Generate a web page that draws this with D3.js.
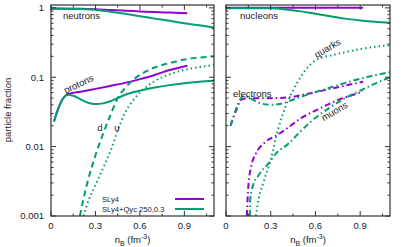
<!DOCTYPE html>
<meta charset="utf-8">
<style>
  body { margin: 0; background: #fff; }
  svg { font-family: "Liberation Sans", Arial, sans-serif; fill: #222; }
  .frame { fill: none; stroke: #333; stroke-width: 1.2px; }
  .tick { stroke: #333; stroke-width: 1px; }
  .curve { fill: none; stroke-width: 2px; }
  .lbl { font-size: 9.5px; }
  .key { font-size: 7.6px; }
</style>
<body>
<svg width="411" height="247"></svg>
<script src="https://cdn.jsdelivr.net/npm/d3@7/dist/d3.min.js"></script>
<script>
// axis ticks
const xTicks = [0, 0.3, 0.6, 0.9];
const xMinor = [0.15, 0.45, 0.75, 1.05];
const yTicks = [0.001, 0.01, 0.1, 1];
const yTickLabels = ["0.001", "0.01", "0.1", "1"];

// left panel: SLy4 (purple) vs SLy4+Qyc 250,0.3 (green)
const neutronsSLy4 = [[0,0.98],[0.2,0.97],[0.3,0.955],[0.4,0.93],[0.5,0.91],[0.6,0.89],[0.7,0.87],[0.8,0.855],[0.92,0.835]];
const neutronsQyc = [[0,0.98],[0.2,0.965],[0.3,0.94],[0.4,0.88],[0.5,0.82],[0.6,0.76],[0.7,0.7],[0.8,0.65],[0.9,0.6],[1.0,0.56],[1.1,0.52]];
const protonsSLy4 = [[0.02,0.023],[0.05,0.036],[0.08,0.049],[0.115,0.057],[0.2,0.062],[0.3,0.068],[0.4,0.075],[0.5,0.083],[0.6,0.094],[0.7,0.108],[0.8,0.127],[0.92,0.147]];
const protonsQyc = [[0.02,0.023],[0.05,0.036],[0.08,0.049],[0.115,0.056],[0.15,0.054],[0.2,0.048],[0.25,0.043],[0.3,0.041],[0.35,0.042],[0.4,0.045],[0.45,0.05],[0.5,0.056],[0.6,0.064],[0.7,0.071],[0.8,0.077],[0.9,0.082],[1.0,0.086],[1.1,0.089]];
const dQuarks = [[0.195,0.001],[0.22,0.0018],[0.25,0.0033],[0.3,0.0075],[0.35,0.015],[0.4,0.028],[0.45,0.05],[0.5,0.07],[0.55,0.09],[0.6,0.108],[0.7,0.138],[0.8,0.16],[0.9,0.18],[1.0,0.192],[1.1,0.2]];
const uQuarks = [[0.22,0.001],[0.25,0.0016],[0.3,0.0028],[0.35,0.0048],[0.4,0.0085],[0.45,0.017],[0.5,0.031],[0.55,0.045],[0.6,0.06],[0.7,0.088],[0.8,0.11],[0.9,0.128],[1.0,0.14],[1.1,0.15]];

// right panel
const nucleonsSLy4 = [[0,1],[0.3,1],[0.6,1],[0.92,1]];
const nucleonsQyc = [[0,0.99],[0.2,0.99],[0.3,0.985],[0.4,0.95],[0.5,0.89],[0.6,0.82],[0.7,0.76],[0.8,0.7],[0.9,0.66],[1.0,0.63],[1.1,0.61]];
const quarks = [[0.2,0.001],[0.22,0.0018],[0.25,0.003],[0.3,0.0065],[0.35,0.018],[0.4,0.038],[0.45,0.065],[0.5,0.1],[0.55,0.14],[0.6,0.175],[0.65,0.195],[0.7,0.205],[0.8,0.23],[0.9,0.255],[1.0,0.275],[1.1,0.29]];
const electronsSLy4 = [[0.03,0.02],[0.07,0.034],[0.1,0.047],[0.14,0.05],[0.2,0.05],[0.3,0.05],[0.41,0.051],[0.5,0.055],[0.6,0.061],[0.7,0.068],[0.8,0.076],[0.92,0.086]];
const electronsQyc = [[0.03,0.02],[0.07,0.036],[0.1,0.05],[0.12,0.054],[0.16,0.05],[0.22,0.043],[0.3,0.04],[0.36,0.041],[0.42,0.045],[0.5,0.052],[0.6,0.061],[0.68,0.069],[0.8,0.083],[0.9,0.095],[1.0,0.107],[1.1,0.118]];
const muonsSLy4 = [[0.14,0.001],[0.145,0.0018],[0.15,0.0027],[0.17,0.0053],[0.2,0.0079],[0.26,0.0115],[0.34,0.0145],[0.42,0.019],[0.5,0.0255],[0.6,0.033],[0.73,0.045],[0.92,0.062]];
const muonsQyc = [[0.16,0.001],[0.162,0.0017],[0.18,0.0027],[0.22,0.0039],[0.29,0.0059],[0.34,0.0082],[0.41,0.0106],[0.48,0.015],[0.55,0.021],[0.6,0.026],[0.7,0.037],[0.8,0.05],[0.9,0.064],[1.0,0.081],[1.1,0.1]];

const purple = "#9400d3", green = "#009e73";
const dashes = { solid: null, dash: "6,4", dot: "1.5,3", dashdot: "6,3,1.5,3" };

const svg = d3.select("svg");
const plotTop = 5, plotBottom = 216;
const y = d3.scaleLog().domain([0.001, 1.1]).range([plotBottom, plotTop]);

const panels = [
  { id: 0, x0: 51, x1: 214, series: [
      [neutronsSLy4, purple, "solid"], [protonsSLy4, purple, "solid"],
      [neutronsQyc, green, "solid"], [protonsQyc, green, "solid"],
      [dQuarks, green, "dash"], [uQuarks, green, "dot"]] },
  { id: 1, x0: 226, x1: 390, series: [
      [nucleonsSLy4, purple, "solid"], [electronsSLy4, purple, "dashdot"], [muonsSLy4, purple, "dashdot"],
      [nucleonsQyc, green, "solid"], [quarks, green, "dot"],
      [electronsQyc, green, "dashdot"], [muonsQyc, green, "dashdot"]] }
];

panels.forEach(p => {
  const x = d3.scaleLinear().domain([0, 1.1]).range([p.x0, p.x1]);
  const g = svg.append("g");

  g.append("clipPath").attr("id", "clip" + p.id)
    .append("rect").attr("x", p.x0).attr("y", plotTop).attr("width", p.x1 - p.x0).attr("height", plotBottom - plotTop);

  const line = d3.line().x(d => x(d[0])).y(d => y(d[1])).curve(d3.curveMonotoneX);
  g.append("g").attr("clip-path", "url(#clip" + p.id + ")")
    .selectAll("path").data(p.series).join("path")
      .attr("class", "curve")
      .attr("d", d => line(d[0]))
      .attr("stroke", d => d[1])
      .attr("stroke-dasharray", d => dashes[d[2]]);

  // x ticks, bottom and top
  const xt = xTicks.map(v => [v, 5]).concat(xMinor.map(v => [v, 2.5]));
  xt.forEach(([v, len]) => {
    g.append("line").attr("class", "tick").attr("x1", x(v)).attr("x2", x(v)).attr("y1", plotBottom).attr("y2", plotBottom - len);
    g.append("line").attr("class", "tick").attr("x1", x(v)).attr("x2", x(v)).attr("y1", plotTop).attr("y2", plotTop + len);
  });
  g.selectAll(".xl").data(xTicks).join("text")
    .attr("class", "lbl").attr("x", d => x(d)).attr("y", 229).attr("text-anchor", "middle")
    .text(d => d3.format("")(d));

  // y ticks, left and right
  const yt = [];
  yTicks.forEach(v => {
    yt.push([v, 5]);
    if (v < 1) for (let k = 2; k <= 9; k++) yt.push([v * k, 2.5]);
  });
  yt.forEach(([v, len]) => {
    g.append("line").attr("class", "tick").attr("x1", p.x0).attr("x2", p.x0 + len).attr("y1", y(v)).attr("y2", y(v));
    g.append("line").attr("class", "tick").attr("x1", p.x1).attr("x2", p.x1 - len).attr("y1", y(v)).attr("y2", y(v));
  });

  g.append("rect").attr("class", "frame")
    .attr("x", p.x0).attr("y", plotTop).attr("width", p.x1 - p.x0).attr("height", plotBottom - plotTop);

  const xl = g.append("text").attr("class", "lbl").attr("x", (p.x0 + p.x1) / 2).attr("y", 243).attr("text-anchor", "middle");
  xl.append("tspan").text("n");
  xl.append("tspan").attr("dy", 2.5).attr("font-size", "7px").text("B");
  xl.append("tspan").attr("dy", -2.5).text(" (fm");
  xl.append("tspan").attr("dy", -4).attr("font-size", "7px").text("-3");
  xl.append("tspan").attr("dy", 4).text(")");
});

// y tick labels on the left panel only
svg.selectAll(".yl").data(yTicks).join("text")
  .attr("class", "lbl").attr("x", 44).attr("y", d => y(d)).attr("dy", "0.35em")
  .attr("text-anchor", "end").text((d, i) => yTickLabels[i]);

svg.append("text").attr("class", "lbl")
  .attr("transform", "translate(11,110) rotate(-90)").attr("text-anchor", "middle")
  .text("particle fraction");

// curve labels
const labels = [
  ["neutrons", 63, 19, 0, "start"], ["protons", 80, 87, -25, "middle"],
  ["d", 100, 131, 0, "middle"], ["u", 117, 131, 0, "middle"],
  ["nucleons", 240, 19, 0, "start"], ["electrons", 233, 97, 0, "start"],
  ["quarks", 329, 51, -30, "middle"], ["muons", 336, 114, -30, "middle"]
];
svg.selectAll(".cl").data(labels).join("text")
  .attr("class", "lbl")
  .attr("transform", d => `translate(${d[1]},${d[2]}) rotate(${d[3]})`)
  .attr("text-anchor", d => d[4])
  .text(d => d[0]);

// key
const keyItems = [["SLy4", purple], ["SLy4+Qyc 250,0.3", green]];
keyItems.forEach((k, i) => {
  const ky = 199 + i * 10;
  svg.append("text").attr("class", "key").attr("x", 102).attr("y", ky).attr("dy", "0.35em").text(k[0]);
  svg.append("line").attr("x1", 175).attr("x2", 204).attr("y1", ky).attr("y2", ky)
    .attr("stroke", k[1]).attr("stroke-width", 2);
});
</script>
</body>
